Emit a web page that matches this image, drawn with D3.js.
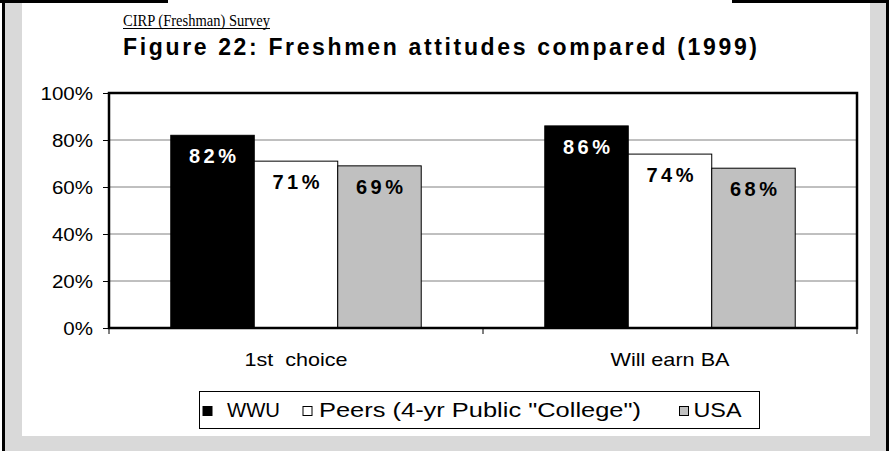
<!DOCTYPE html>
<html>
<head>
<meta charset="utf-8">
<script src="https://cdn.jsdelivr.net/npm/d3@7"></script>
<style>
  html, body { margin: 0; padding: 0; background: #fff; }
  svg { display: block; }
  text { font-family: Arial, "Liberation Sans", sans-serif; }
</style>
</head>
<body>
<script>
// ---- data ----
const categories = ["1st  choice", "Will earn BA"];
const seriesNames = ["WWU", "Peers (4-yr Public \"College\")", "USA"];
const wwuValues = [0.82, 0.86];
const peersValues = [0.71, 0.74];
const usaValues = [0.69, 0.68];
const yTicks = [0, 0.2, 0.4, 0.6, 0.8, 1.0];
const subtitleText = "CIRP (Freshman) Survey";
const titleText = "Figure  22:  Freshmen  attitudes  compared  (1999)";

const seriesValues = [wwuValues, peersValues, usaValues];
const seriesFill = ["#000000", "#ffffff", "#c0c0c0"];
const labelFill = ["#ffffff", "#000000", "#000000"];

const W = 889, H = 451;
const svg = d3.select("body").append("svg").attr("width", W).attr("height", H);

// ---- page frame ----
svg.append("rect").attr("x", 4).attr("y", 2).attr("width", 883).attr("height", H - 2).attr("fill", "#d9d9d9");
svg.append("rect").attr("x", 22).attr("y", 0).attr("width", 848).attr("height", 436).attr("fill", "#ffffff");
svg.append("rect").attr("x", 2).attr("y", 0).attr("width", 3).attr("height", H).attr("fill", "#000");
svg.append("rect").attr("x", 886).attr("y", 0).attr("width", 3).attr("height", H).attr("fill", "#000");
svg.append("rect").attr("x", 0).attr("y", 0).attr("width", 168).attr("height", 3).attr("fill", "#000");
svg.append("rect").attr("x", 732).attr("y", 0).attr("width", 157).attr("height", 3).attr("fill", "#000");

// ---- titles ----
svg.append("text").attr("x", 123).attr("y", 26)
  .style("font-family", "'Liberation Serif', 'DejaVu Serif', serif")
  .attr("font-size", 17).attr("fill", "#000")
  .attr("textLength", 147).attr("lengthAdjust", "spacingAndGlyphs")
  .text(subtitleText);
svg.append("line").attr("x1", 123).attr("x2", 270).attr("y1", 28.5).attr("y2", 28.5)
  .attr("stroke", "#000").attr("stroke-width", 1);

svg.append("text").attr("x", 123).attr("y", 55)
  .attr("font-size", 23).attr("font-weight", "bold").attr("fill", "#000")
  .attr("textLength", 634).attr("lengthAdjust", "spacing")
  .text(titleText);

// ---- scales ----
const plot = { left: 109, right: 857, top: 93, bottom: 328 };
const y = d3.scaleLinear().domain([0, 1]).range([plot.bottom, plot.top]);
const x0 = d3.scaleBand().domain(categories).range([plot.left, plot.right]).padding(0);
const x1 = d3.scaleBand().domain(d3.range(seriesNames.length)).range([0, x0.bandwidth()])
  .paddingInner(0).paddingOuter(0.74);

// ---- gridlines ----
svg.append("g").selectAll("line").data(yTicks.filter(d => d > 0 && d < 1)).join("line")
  .attr("x1", plot.left).attr("x2", plot.right)
  .attr("y1", d => y(d)).attr("y2", d => y(d))
  .attr("stroke", "#808080").attr("stroke-width", 1);

// ---- y axis ----
const yAxis = svg.append("g").attr("transform", `translate(${plot.left},0)`)
  .call(d3.axisLeft(y).tickValues(yTicks).tickFormat(d3.format(".0%")).tickSize(6).tickPadding(10));
yAxis.select(".domain").remove();
yAxis.selectAll(".tick line").attr("stroke", "#000");
yAxis.selectAll(".tick text").attr("font-size", 19).attr("fill", "#000")
  .style("font-family", "Arial, 'Liberation Sans', sans-serif")
  .each(function () {
    const len = this.getComputedTextLength();
    d3.select(this).attr("textLength", len * 1.08).attr("lengthAdjust", "spacingAndGlyphs");
  });

// ---- bars ----
const groups = svg.append("g").selectAll("g").data(categories).join("g")
  .attr("transform", c => `translate(${x0(c)},0)`);

groups.each(function (c, ci) {
  const g = d3.select(this);
  seriesNames.forEach((s, si) => {
    const v = seriesValues[si][ci];
    g.append("rect")
      .attr("x", x1(si)).attr("width", x1.bandwidth())
      .attr("y", y(v)).attr("height", y(0) - y(v))
      .attr("fill", seriesFill[si]).attr("stroke", "#000").attr("stroke-width", 1);
    g.append("text")
      .attr("x", x1(si) + x1.bandwidth() / 2).attr("y", y(v) + 28)
      .attr("text-anchor", "middle").attr("font-size", 20).attr("font-weight", "bold")
      .attr("fill", labelFill[si])
      .attr("textLength", 47).attr("lengthAdjust", "spacing")
      .text(d3.format(".0%")(v));
  });
});

// ---- plot frame ----
svg.append("rect").attr("x", plot.left).attr("y", plot.top)
  .attr("width", plot.right - plot.left).attr("height", plot.bottom - plot.top)
  .attr("fill", "none").attr("stroke", "#000").attr("stroke-width", 2.5);

// ---- x axis ----
const xAxis = svg.append("g").attr("transform", `translate(0,${plot.bottom})`)
  .call(d3.axisBottom(x0).tickSize(0).tickPadding(25));
xAxis.select(".domain").remove();
const catWidths = [103, 119];
xAxis.selectAll(".tick text").attr("font-size", 19).attr("fill", "#000")
  .style("font-family", "Arial, 'Liberation Sans', sans-serif")
  .style("white-space", "pre")
  .attr("textLength", (d, i) => catWidths[i]).attr("lengthAdjust", "spacingAndGlyphs");
const boundaries = [plot.left].concat(categories.map(c => x0(c) + x0.bandwidth()));
svg.append("g").selectAll("line").data(boundaries).join("line")
  .attr("x1", d => d).attr("x2", d => d)
  .attr("y1", plot.bottom).attr("y2", plot.bottom + 6)
  .attr("stroke", "#000").attr("stroke-width", 1);

// ---- legend ----
const legend = svg.append("g");
legend.append("rect").attr("x", 199.5).attr("y", 391.5).attr("width", 560).attr("height", 37)
  .attr("fill", "#fff").attr("stroke", "#000").attr("stroke-width", 1);
const legendItems = [
  { sq: 203, tx: 227, tw: 53 },
  { sq: 303, tx: 319, tw: 322 },
  { sq: 679.5, tx: 693.5, tw: 48 }
];
seriesNames.forEach((s, i) => {
  const it = legendItems[i];
  legend.append("rect").attr("x", it.sq).attr("y", 406.5).attr("width", 9).attr("height", 9)
    .attr("fill", seriesFill[i]).attr("stroke", "#000").attr("stroke-width", 1);
  legend.append("text").attr("x", it.tx).attr("y", 417)
    .attr("font-size", 21).attr("fill", "#000")
    .attr("textLength", it.tw).attr("lengthAdjust", "spacingAndGlyphs")
    .text(s);
});
</script>
</body>
</html>
